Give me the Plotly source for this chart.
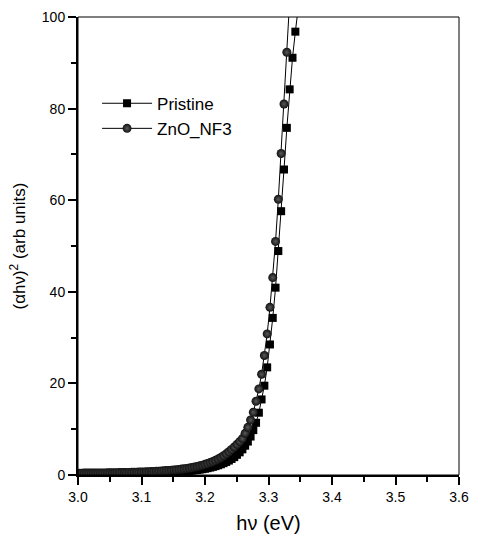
import plotly.graph_objects as go

# Photon energy grid (eV)
hv = [3.0024, 3.0061, 3.0097, 3.0134, 3.0170, 3.0207, 3.0244, 3.0281, 3.0318, 3.0355,
      3.0392, 3.0429, 3.0467, 3.0504, 3.0542, 3.0580, 3.0617, 3.0655, 3.0693, 3.0731,
      3.0769, 3.0807, 3.0846, 3.0884, 3.0923, 3.0961, 3.1000, 3.1039, 3.1078, 3.1117,
      3.1156, 3.1195, 3.1234, 3.1274, 3.1313, 3.1353, 3.1392, 3.1432, 3.1472, 3.1512,
      3.1552, 3.1592, 3.1633, 3.1673, 3.1714, 3.1754, 3.1795, 3.1836, 3.1877, 3.1918,
      3.1959, 3.2000, 3.2041, 3.2083, 3.2124, 3.2166, 3.2208, 3.2250, 3.2292, 3.2334,
      3.2376, 3.2418, 3.2461, 3.2503, 3.2546, 3.2589, 3.2632, 3.2675, 3.2718, 3.2761,
      3.2804, 3.2848, 3.2891, 3.2935, 3.2979, 3.3023, 3.3067, 3.3111, 3.3155, 3.3199,
      3.3244, 3.3289, 3.3333, 3.3378, 3.3423, 3.3468]

pristine = [0.28, 0.28, 0.29, 0.29, 0.29, 0.30, 0.30, 0.30, 0.31, 0.31,
            0.31, 0.32, 0.32, 0.32, 0.33, 0.33, 0.33, 0.34, 0.34, 0.35,
            0.35, 0.35, 0.36, 0.36, 0.37, 0.38, 0.39, 0.40, 0.41, 0.43,
            0.44, 0.46, 0.48, 0.50, 0.52, 0.54, 0.56, 0.59, 0.62, 0.65,
            0.68, 0.72, 0.76, 0.80, 0.85, 0.90, 0.96, 1.03, 1.10, 1.18,
            1.27, 1.37, 1.49, 1.62, 1.77, 1.94, 2.13, 2.34, 2.58, 2.85,
            3.15, 3.50, 3.90, 4.40, 4.95, 5.60, 6.40, 7.30, 8.40, 9.80,
            11.4, 13.6, 16.5, 19.5, 23.5, 28.5, 34.3, 40.9, 48.9, 57.6,
            66.7, 75.8, 84.2, 91.1, 96.8, 102.0]

znonf3 = [0.40, 0.40, 0.41, 0.41, 0.42, 0.42, 0.43, 0.43, 0.44, 0.45,
          0.45, 0.46, 0.47, 0.48, 0.49, 0.50, 0.51, 0.52, 0.53, 0.54,
          0.56, 0.57, 0.59, 0.60, 0.62, 0.64, 0.66, 0.68, 0.70, 0.72,
          0.75, 0.78, 0.81, 0.84, 0.88, 0.92, 0.96, 1.00, 1.05, 1.10,
          1.16, 1.22, 1.29, 1.36, 1.44, 1.53, 1.63, 1.74, 1.86, 2.00,
          2.15, 2.32, 2.51, 2.72, 2.95, 3.21, 3.50, 3.83, 4.20, 4.62,
          5.08, 5.58, 6.12, 6.70, 7.30, 7.95, 9.10, 10.4, 12.0, 13.7,
          16.1, 18.8, 22.0, 26.1, 30.8, 36.6, 43.1, 51.0, 60.2, 70.2,
          81.0, 92.3, 103.5, None, None, None]

x_ticks = [3.0, 3.1, 3.2, 3.3, 3.4, 3.5, 3.6]
y_ticks = [0, 20, 40, 60, 80, 100]

FONT = "Liberation Sans, Arial, sans-serif"

fig = go.Figure()
fig.add_trace(go.Scatter(
    x=hv, y=pristine, name="Pristine", mode="lines+markers",
    line=dict(color="black", width=1),
    marker=dict(symbol="square", size=8, color="black"),
))
fig.add_trace(go.Scatter(
    x=hv, y=znonf3, name="ZnO_NF3", mode="lines+markers",
    line=dict(color="black", width=1),
    marker=dict(symbol="circle", size=9, color="#111111",
                gradient=dict(type="radial", color="#5a5a5a"),
                line=dict(width=0)),
))

axis_common = dict(
    showgrid=False, zeroline=False, showline=True, linecolor="black", linewidth=2,
    ticks="outside", ticklen=8, tickwidth=1.5, tickcolor="black",
    tickfont=dict(family=FONT, size=14, color="black"),
)

fig.update_xaxes(
    range=[3.0, 3.6], tickvals=x_ticks, ticktext=[f"{v:.1f}" for v in x_ticks],
    minor=dict(ticks="outside", ticklen=5, tickwidth=1.5, tickcolor="black", dtick=0.05, tick0=3.0),
    title=dict(text="h\u03bd (eV)", font=dict(family=FONT, size=20, color="black"), standoff=12),
    **axis_common,
)
fig.update_yaxes(
    range=[0, 100], tickvals=y_ticks,
    minor=dict(ticks="outside", ticklen=5, tickwidth=1.5, tickcolor="black", dtick=10, tick0=0),
    title=dict(text="(\u03b1h\u03bd)<sup>2</sup> (arb units)", font=dict(family=FONT, size=17, color="black"), standoff=12),
    **axis_common,
)

# thin top/right frame
fig.add_shape(type="rect", xref="paper", yref="paper", x0=0, y0=0, x1=1, y1=1,
              line=dict(color="black", width=1), fillcolor="rgba(0,0,0,0)", layer="above")

fig.update_layout(
    width=478, height=542,
    margin=dict(l=78, r=10, t=9, b=67),
    paper_bgcolor="white", plot_bgcolor="white",
    font=dict(family=FONT, color="black"),
    legend=dict(x=0.05, y=0.85, xanchor="left", yanchor="top",
                bgcolor="rgba(0,0,0,0)", borderwidth=0,
                font=dict(family=FONT, size=17, color="black"),
                itemwidth=50, tracegroupgap=0),
)

fig.write_html("out.html")
